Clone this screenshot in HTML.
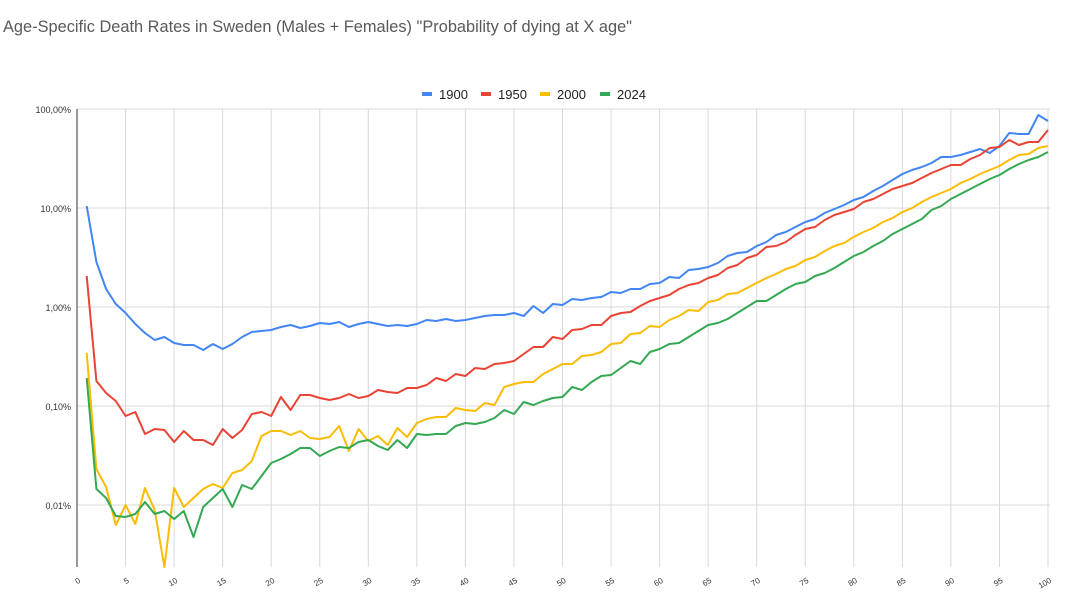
<!DOCTYPE html>
<html><head><meta charset="utf-8"><style>
body{margin:0;background:#fff;font-family:"Liberation Sans",Arial,sans-serif}
</style></head><body>
<svg id="c" width="1080" height="614" xmlns="http://www.w3.org/2000/svg" style="display:block">
<text x="3" y="32" font-size="17" fill="#595959" textLength="629" lengthAdjust="spacingAndGlyphs">Age-Specific Death Rates in Sweden (Males + Females) "Probability of dying at X age"</text>
<g font-size="13" fill="#222">
<rect x="422" y="92" width="10" height="4" fill="#4285f4"/><text x="439" y="99">1900</text>
<rect x="481" y="92" width="10" height="4" fill="#ea4335"/><text x="498" y="99">1950</text>
<rect x="540" y="92" width="10" height="4" fill="#fbbc04"/><text x="557" y="99">2000</text>
<rect x="600" y="92" width="10" height="4" fill="#34a853"/><text x="617" y="99">2024</text>
</g>
<g id="grid"></g>
<g id="lines" fill="none" stroke-width="2" stroke-linejoin="round"></g>
</svg>
<script>
const ns="http://www.w3.org/2000/svg";
const x0=77,dx=9.71;
const g=document.getElementById('grid');
function el(t,a,p,txt){const e=document.createElementNS(ns,t);for(const k in a)e.setAttribute(k,a[k]);if(txt!==undefined)e.textContent=txt;p.appendChild(e);return e;}
for(let a=5;a<=100;a+=5){const x=x0+a*dx;el('line',{x1:x,x2:x,y1:109,y2:567,stroke:'#d9d9d9','stroke-width':1},g);}
const yl=[[109,'100,00%'],[208,'10,00%'],[307,'1,00%'],[406,'0,10%'],[505,'0,01%']];
yl.forEach(([y,t])=>{el('line',{x1:x0,x2:1050,y1:y,y2:y,stroke:'#d9d9d9','stroke-width':1},g);el('text',{x:71,y:y+4,'font-size':9,'text-anchor':'end',fill:'#333'},g,t);});
el('line',{x1:x0,x2:x0,y1:109,y2:567,stroke:'#333','stroke-width':1},g);
for(let a=0;a<=100;a+=5){const x=x0+a*dx;el('text',{x:x+4,y:582,'font-size':8,'text-anchor':'end',fill:'#333',transform:`rotate(-30 ${x+4} 582)`},g,a);}
const S={
'#4285f4':[206,262,289,304,313,324,333,340,337,343,345,345,350,344,349,344,337,332,331,330,327,325,328,326,323,324,322,327,324,322,324,326,325,326,324,320,321,319,321,320,318,316,315,315,313,316,306,313,304,305,299,300,298,297,292,293,289,289,284,283,277,278,270,269,267,263,256,253,252,246,242,235,232,227,222,219,213,209,205,200,197,191,186,180,174,170,167,163,157,157,155,152,149,153,146,133,134,134,115,121],
'#ea4335':[276,381,393,401,416,412,434,429,430,442,431,440,440,445,429,438,430,414,412,416,397,410,395,395,398,400,398,394,398,396,390,392,393,388,388,385,378,381,374,376,368,369,364,363,361,354,347,347,337,339,330,329,325,325,316,313,312,306,301,298,295,289,285,283,278,275,268,265,258,255,247,246,242,235,229,227,220,215,212,209,202,199,194,189,186,183,178,173,169,165,165,159,155,148,147,140,145,142,142,130],
'#fbbc04':[353,469,487,525,505,524,488,510,567,488,507,498,489,484,488,473,470,461,436,431,431,435,431,438,439,437,426,451,429,441,436,445,428,437,423,419,417,417,408,410,411,403,405,387,384,382,382,374,369,364,364,356,355,352,344,343,334,333,326,327,320,316,310,311,302,300,294,293,288,283,278,274,269,266,260,257,251,246,243,237,232,228,222,218,212,208,202,197,193,189,183,179,174,170,166,160,155,154,148,146],
'#34a853':[378,489,498,516,517,514,502,514,511,519,511,537,507,498,489,507,485,489,476,463,459,454,448,448,456,451,447,448,442,440,446,450,440,448,434,435,434,434,426,423,424,422,418,410,414,402,405,401,398,397,387,390,382,376,375,368,361,364,352,349,344,343,337,331,325,323,319,313,307,301,301,295,289,284,282,276,273,268,262,256,252,246,241,234,229,224,219,210,206,199,194,189,184,179,175,169,164,160,157,152]};
const L=document.getElementById('lines');
for(const c in S){el('polyline',{points:S[c].map((y,i)=>(x0+(i+1)*dx).toFixed(1)+','+y).join(' '),stroke:c},L);}
</script>
</body></html>
